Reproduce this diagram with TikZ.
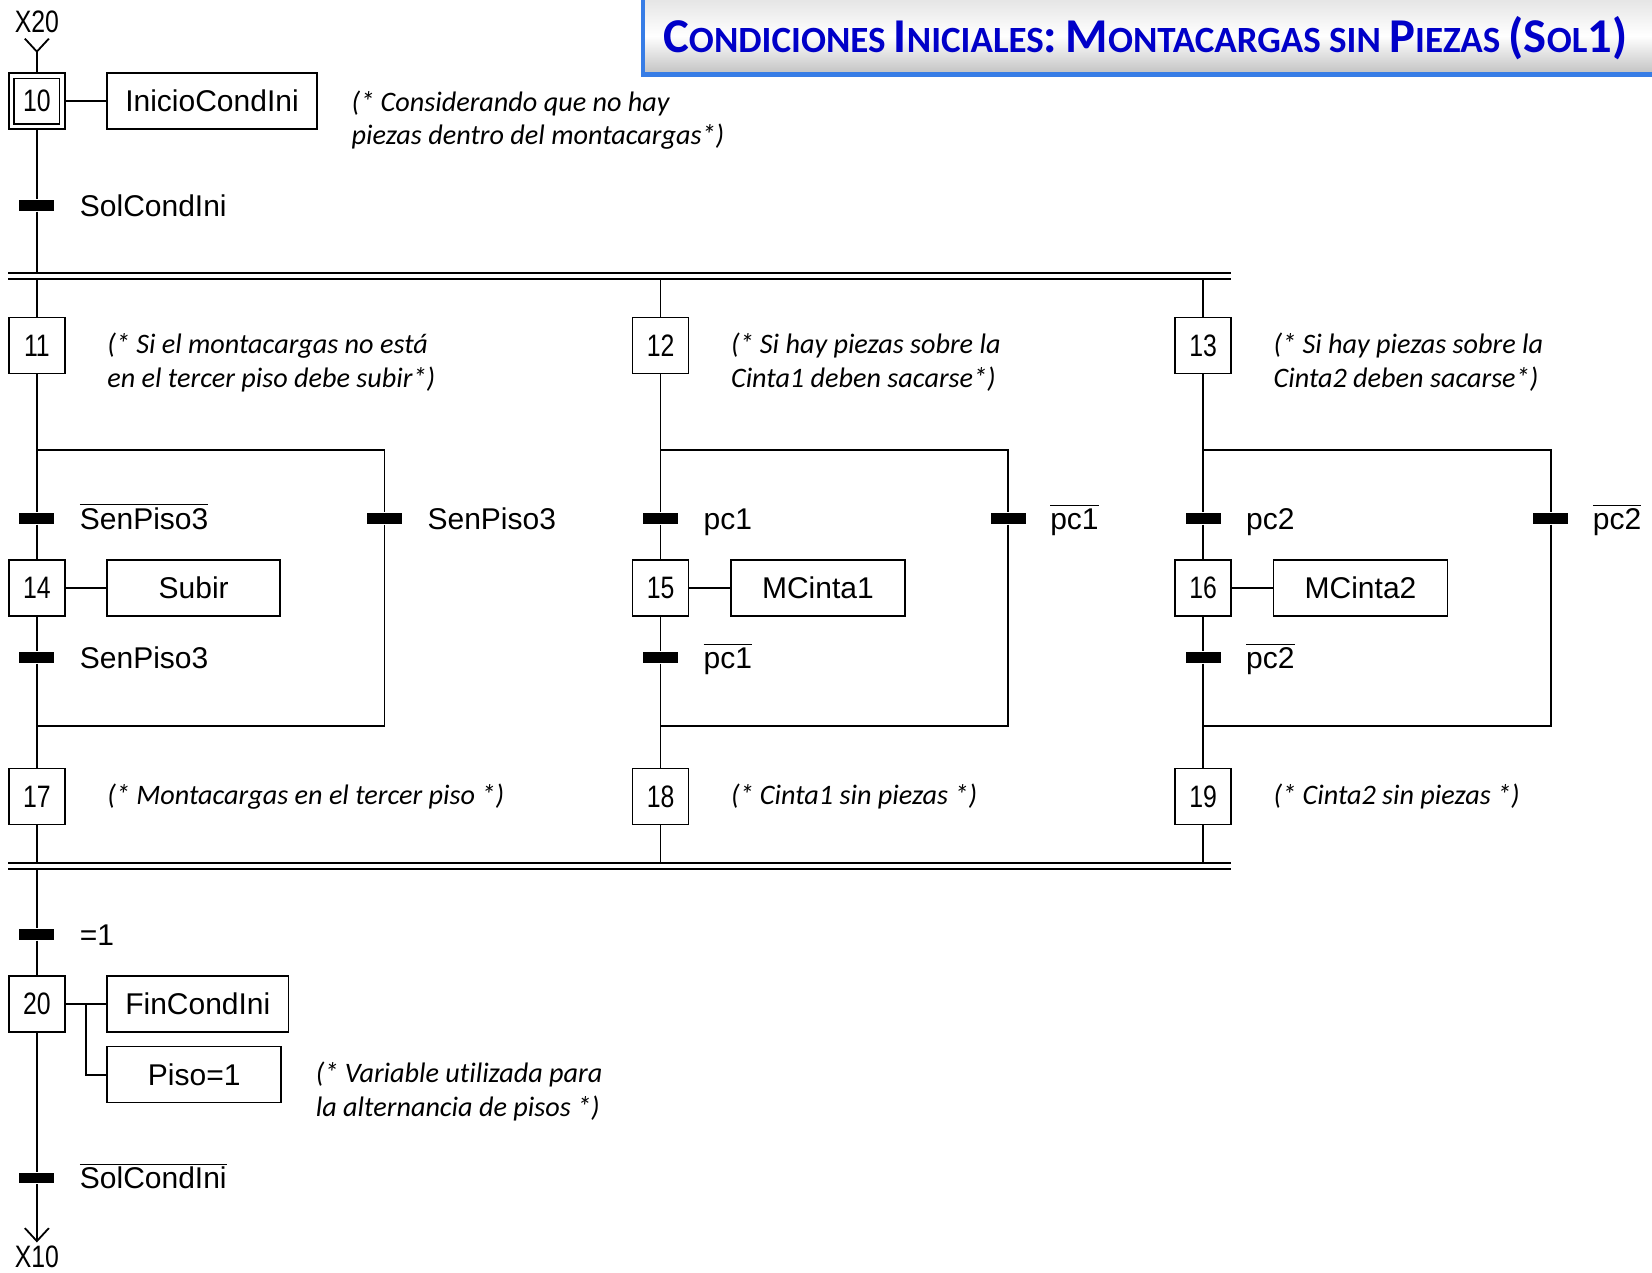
\documentclass[tikz,border=0pt]{standalone}
\usepackage{fontspec}
\setmainfont{Liberation Sans}
\newfontfamily\numfont[FakeStretch=0.8]{Liberation Sans}
\newfontfamily\cmtfont[Ligatures=NoCommon]{Carlito}
\usepackage{tikz}
\usetikzlibrary{arrows.meta}
\definecolor{tituloazul}{RGB}{0,0,200}
\definecolor{bordeazul}{RGB}{55,125,230}
\tikzset{
  etapa/.style={draw, line width=0.9pt, minimum width=28pt, minimum height=28pt, inner sep=0pt, font=\numfont\fontsize{15.5}{15.5}\selectfont},
  accion/.style={draw, line width=0.8pt, anchor=west, minimum height=28pt, inner sep=0pt, font=\fontsize{15}{15}\selectfont},
  trans/.style={fill, minimum width=17.5pt, minimum height=5.3pt, inner sep=0pt},
  etiq/.style={anchor=west, inner sep=0pt, text height=10.7pt, text depth=0pt, font=\fontsize{15}{15}\selectfont},
  numlab/.style={inner sep=0pt, font=\numfont\fontsize{15.5}{15.5}\selectfont},
  comentario/.style={anchor=west, align=left, inner sep=0pt, font=\cmtfont\itshape\fontsize{14.1}{16.8}\selectfont},
  titulo/.style={inner sep=0pt, text=tituloazul, font=\cmtfont\bfseries\fontsize{18.5}{18.5}\selectfont}
}
\newcommand{\negado}[1]{$\overline{\mbox{#1}}$}
\newcommand{\tvers}[2]{{\fontsize{24.3}{24.3}\selectfont #1}{\fontsize{18.5}{18.5}\selectfont #2}}

\begin{document}
\begin{tikzpicture}[x=0.5268pt, y=-0.5268pt, line width=0.9pt]
\useasboundingbox (0,0) rectangle (1568,1208);

\shade[top color=gray!20, bottom color=gray!45, middle color=white] (611,0) rectangle (1568,68);
\fill[bordeazul] (608,0) rectangle (612,72);
\fill[bordeazul] (608,68) rectangle (1568,73);
\node[titulo] (tit) at (1087,36) {\tvers{C}{ONDICIONES} \tvers{I}{NICIALES}\tvers{:}{} \tvers{M}{ONTACARGAS} \tvers{}{SIN} \tvers{P}{IEZAS} \tvers{(S}{OL}\tvers{1)}{}};

\node[numlab] (x20) at (35,21) {X20};
\coordinate (v20) at (35,49);
\node[etapa] (e10) at (35,96) {10};
\draw[line width=0.6pt] ([shift={(3pt,-3pt)}]e10.north west) rectangle ([shift={(-3pt,3pt)}]e10.south east);
\node[accion, minimum width=104.8pt] (a10) at (101,96) {InicioCondIni};
\node[comentario] (c10) at (333,114) {(* Considerando que no hay\\piezas dentro del montacargas*)};
\node[trans] (t10) at (35,195) {};
\node[etiq] (l10) at (75,195) {SolCondIni};

\draw ([shift={(-6pt,6.5pt)}]v20) -- (v20) -- ([shift={(6pt,6.5pt)}]v20);
\draw (v20) -- (e10);
\draw (e10) -- (a10);
\draw (e10) -- (t10);

\coordinate (dv1) at (8,259);
\coordinate (dv2) at (1168,259);
\coordinate (dv3) at (8,265);
\coordinate (dv4) at (1168,265);
\draw (dv1) -- (dv2);
\draw (dv3) -- (dv4);
\draw (t10) -- (t10 |- dv1);

\node[etapa] (e11) at (35,328) {11};
\node[etapa] (e12) at (627,328) {12};
\node[etapa] (e13) at (1142,328) {13};
\node[comentario] (c11) at (101,344) {(* Si el montacargas no está\\en el tercer piso debe subir*)};
\node[comentario] (c12) at (693,344) {(* Si hay piezas sobre la\\Cinta1 deben sacarse*)};
\node[comentario] (c13) at (1208,344) {(* Si hay piezas sobre la\\Cinta2 deben sacarse*)};
\draw (e11 |- dv3) -- (e11);
\draw (e12 |- dv3) -- (e12);
\draw (e13 |- dv3) -- (e13);

\coordinate (s11) at (35,427);
\coordinate (r11) at (365,427);
\coordinate (s17) at (35,689);
\coordinate (r17) at (365,689);
\node[trans] (t11a) at (35,492) {};
\node[trans] (t11b) at (365,492) {};
\node[etiq] (l11a) at (75,492) {\negado{SenPiso3}};
\node[etiq] (l11b) at (405,492) {SenPiso3};
\node[etapa] (e14) at (35,558) {14};
\node[accion, minimum width=86.5pt] (a14) at (101,558) {Subir};
\node[trans] (t14) at (35,624) {};
\node[etiq] (l14) at (75,624) {SenPiso3};
\node[etapa] (e17) at (35,756) {17};
\node[comentario] (c17) at (101,756) {(* Montacargas en el tercer piso *)};
\draw (e11) -- (t11a) -- (e14) -- (t14) -- (e17);
\draw (s11) -- (r11) -- (t11b) -- (r17) -- (s17);
\draw (e14) -- (a14);

\coordinate (s12) at (627,427);
\coordinate (r12) at (957,427);
\coordinate (s18) at (627,689);
\coordinate (r18) at (957,689);
\node[trans] (t12a) at (627,492) {};
\node[trans] (t12b) at (957,492) {};
\node[etiq] (l12a) at (667,492) {pc1};
\node[etiq] (l12b) at (996,492) {\negado{pc1}};
\node[etapa] (e15) at (627,558) {15};
\node[accion, minimum width=87pt] (a15) at (693,558) {MCinta1};
\node[trans] (t15) at (627,624) {};
\node[etiq] (l15) at (667,624) {\negado{pc1}};
\node[etapa] (e18) at (627,756) {18};
\node[comentario] (c18) at (693,756) {(* Cinta1 sin piezas *)};
\draw (e12) -- (t12a) -- (e15) -- (t15) -- (e18);
\draw (s12) -- (r12) -- (t12b) -- (r18) -- (s18);
\draw (e15) -- (a15);

\coordinate (s13) at (1142,427);
\coordinate (r13) at (1472,427);
\coordinate (s19) at (1142,689);
\coordinate (r19) at (1472,689);
\node[trans] (t13a) at (1142,492) {};
\node[trans] (t13b) at (1472,492) {};
\node[etiq] (l13a) at (1182,492) {pc2};
\node[etiq] (l13b) at (1511,492) {\negado{pc2}};
\node[etapa] (e16) at (1142,558) {16};
\node[accion, minimum width=87pt] (a16) at (1208,558) {MCinta2};
\node[trans] (t16) at (1142,624) {};
\node[etiq] (l16) at (1182,624) {\negado{pc2}};
\node[etapa] (e19) at (1142,756) {19};
\node[comentario] (c19) at (1208,756) {(* Cinta2 sin piezas *)};
\draw (e13) -- (t13a) -- (e16) -- (t16) -- (e19);
\draw (s13) -- (r13) -- (t13b) -- (r19) -- (s19);
\draw (e16) -- (a16);

\coordinate (cv1) at (8,819);
\coordinate (cv2) at (1168,819);
\coordinate (cv3) at (8,825);
\coordinate (cv4) at (1168,825);
\draw (cv1) -- (cv2);
\draw (cv3) -- (cv4);
\draw (e17) -- (e17 |- cv1);
\draw (e18) -- (e18 |- cv1);
\draw (e19) -- (e19 |- cv1);

\node[trans] (t17) at (35,887) {};
\node[etiq] (l17) at (75,887) {=1};
\node[etapa] (e20) at (35,953) {20};
\node[accion, minimum width=90.6pt] (a20) at (101,953) {FinCondIni};
\node[accion, minimum width=87pt] (p20) at (101,1020) {Piso=1};
\coordinate (k20) at (82,953);
\node[comentario] (c20) at (299,1036) {(* Variable utilizada para\\la alternancia de pisos *)};
\node[trans] (t20) at (35,1118) {};
\node[etiq] (l20) at (75,1118) {\negado{SolCondIni}};
\coordinate (v10) at (35,1178);
\node[numlab] (x10) at (35,1193) {X10};
\draw (t17 |- cv3) -- (t17) -- (e20) -- (t20) -- (v10);
\draw (e20) -- (a20);
\draw (k20) |- (p20);
\draw ([shift={(-6pt,6.5pt)}]v10) -- (v10) -- ([shift={(6pt,6.5pt)}]v10);
\end{tikzpicture}
\end{document}
